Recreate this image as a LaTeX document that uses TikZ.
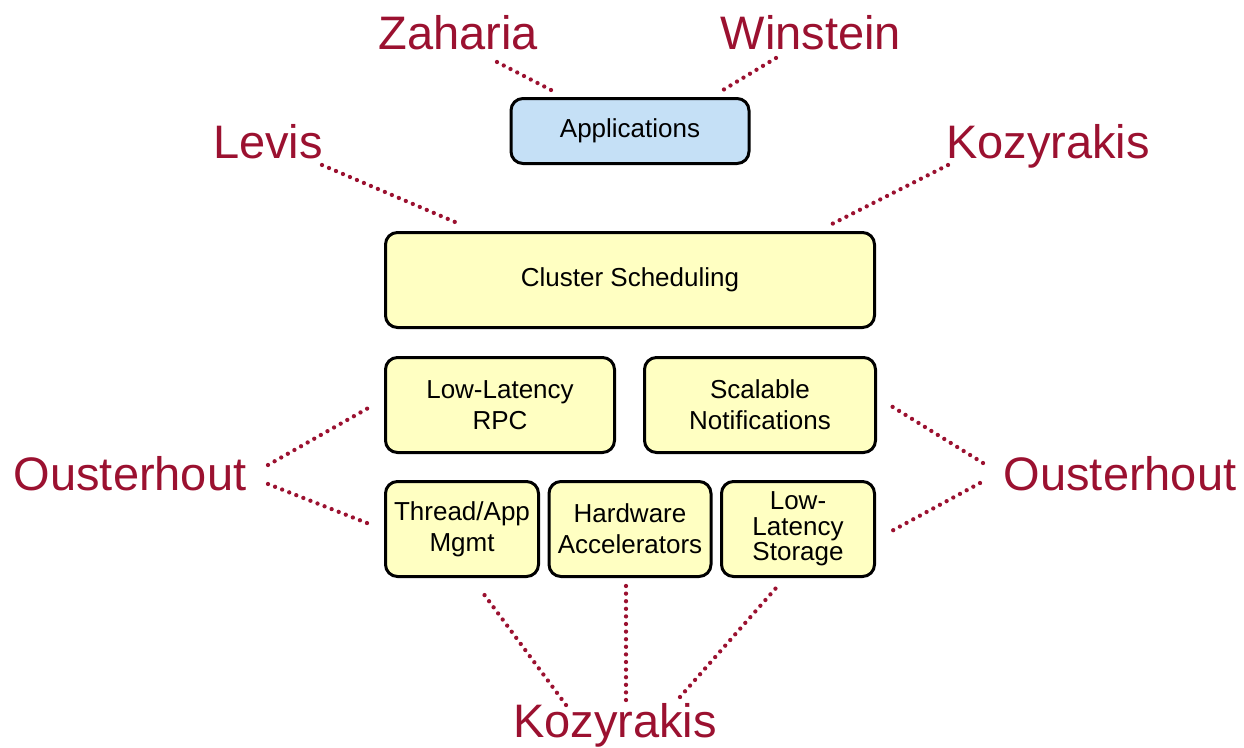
\documentclass[tikz,border=0pt]{standalone}
\usepackage{fontspec}
\setmainfont{Liberation Sans}
\definecolor{cardinal}{RGB}{155,17,48}
\definecolor{appblue}{RGB}{197,224,246}
\definecolor{layeryellow}{RGB}{255,255,194}
\begin{document}
\begin{tikzpicture}[x=1pt,y=-1pt]
\tikzstyle{layer}=[draw=black, line width=3pt, rounded corners=12pt, fill=layeryellow, align=center, font=\fontsize{26}{31}\selectfont, inner sep=0pt]
\tikzstyle{who}=[text=cardinal, font=\fontsize{47}{56}\selectfont, anchor=base, inner sep=0pt]
\tikzstyle{link}=[cardinal, line width=4.3pt, line cap=round, dash pattern=on 0pt off 7.6pt]
\useasboundingbox (0,0) rectangle (1244,747);
% layers
\node[layer, fill=appblue, minimum width=238, minimum height=65] (apps) at (630,131) {Applications};
\node[layer, minimum width=489, minimum height=95] (sched) at (630,280) {Cluster Scheduling};
\node[layer, minimum width=229, minimum height=95] (rpc) at (500,405) {Low-Latency\\RPC};
\node[layer, minimum width=231, minimum height=95] (notif) at (760,405) {Scalable\\Notifications};
\node[layer, minimum width=153, minimum height=95] (thread) at (462,529) {Thread/App\\Mgmt};
\node[layer, minimum width=162, minimum height=95] (accel) at (630,529) {Hardware\\Accelerators};
\node[layer, minimum width=153, minimum height=95, font=\fontsize{26}{25.5}\selectfont] (store) at (798,529) {Low-\\Latency\\Storage};
% names
\node[who] (zaharia) at (458,49) {Zaharia};
\node[who] (winstein) at (811,49) {Winstein};
\node[who] (levis) at (268,158) {Levis};
\node[who] (kozTop) at (1048,158) {Kozyrakis};
\node[who] (oustL) at (130,490) {Ousterhout};
\node[who] (oustR) at (1120,490) {Ousterhout};
\node[who] (kozBot) at (615,737) {Kozyrakis};
% line ends
\coordinate (zahA) at (497,62);   \coordinate (zahB) at (551,90);
\coordinate (winA) at (776,58);   \coordinate (winB) at (723,90);
\coordinate (levA) at (322,165);  \coordinate (levB) at (455,222);
\coordinate (kozA) at (948,165);  \coordinate (kozB) at (830,225);
\coordinate (olA) at (268,465);   \coordinate (olB) at (370,407);
\coordinate (olC) at (268,484);   \coordinate (olD) at (372,525);
\coordinate (orA) at (983,463);   \coordinate (orB) at (888,404);
\coordinate (orC) at (980,483);   \coordinate (orD) at (888,533);
\coordinate (kbA) at (566,705);   \coordinate (kbB) at (483,593);
\coordinate (kbC) at (626,700);   \coordinate (kbD) at (626,585);
\coordinate (kbE) at (680,697);   \coordinate (kbF) at (776,588);
\draw[link] (zahA) -- (zahB);
\draw[link] (winA) -- (winB);
\draw[link] (levA) -- (levB);
\draw[link] (kozA) -- (kozB);
\draw[link] (olA) -- (olB);
\draw[link] (olC) -- (olD);
\draw[link] (orA) -- (orB);
\draw[link] (orC) -- (orD);
\draw[link] (kbA) -- (kbB);
\draw[link] (kbC) -- (kbD);
\draw[link] (kbE) -- (kbF);
\end{tikzpicture}
\end{document}
